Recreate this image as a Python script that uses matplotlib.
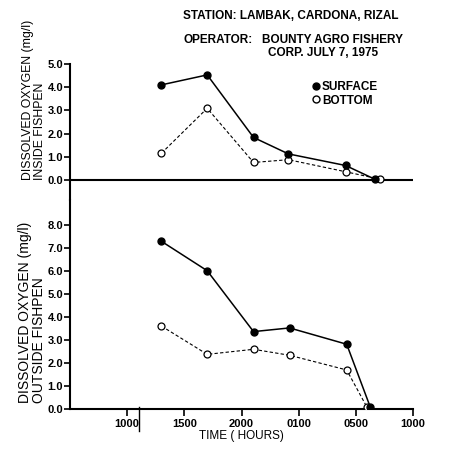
import matplotlib.pyplot as plt
from matplotlib.lines import Line2D

plt.rcParams['font.family'] = ['Liberation Sans', 'DejaVu Sans']
plt.rcParams['font.weight'] = 'bold'

# tick positions on the time axis (one unit per label)
tick_labels = ["1000", "1500", "2000", "0100", "0500", "1000"]

# sampling times as positions on that axis
x_in_surface = [0.60, 1.40, 2.21, 2.82, 3.82, 4.33]
x_in_bottom = [0.60, 1.40, 2.21, 2.82, 3.82, 4.42]
x_out_surface = [0.60, 1.40, 2.21, 2.84, 3.84, 4.25]
x_out_bottom = [0.60, 1.40, 2.21, 2.84, 3.84, 4.19]

# dissolved oxygen, mg/l
do_in_surface = [4.10, 4.53, 1.83, 1.12, 0.62, 0.03]
do_in_bottom = [1.15, 3.09, 0.75, 0.87, 0.35, 0.03]
do_out_surface = [7.30, 6.02, 3.37, 3.53, 2.82, 0.10]
do_out_bottom = [3.61, 2.38, 2.60, 2.34, 1.70, 0.10]

fig = plt.figure(figsize=(4.5, 4.53), dpi=100)
ax1 = fig.add_axes([0.1556, 0.5585, 0.7622, 0.3002])
ax2 = fig.add_axes([0.1556, 0.0971, 0.7622, 0.4614])

surf = dict(color="black", lw=1.1, marker="o", ms=5, mfc="black", mec="black")
bott = dict(color="black", lw=0.8, ls=(0, (3, 2)), marker="o", ms=5,
            mfc="white", mec="black", mew=0.9)

ax1.plot(x_in_bottom, do_in_bottom, **bott, zorder=3)
ax1.plot(x_in_surface, do_in_surface, **surf, zorder=4)
ax2.plot(x_out_bottom, do_out_bottom, **bott, zorder=3)
ax2.plot(x_out_surface, do_out_surface, **surf, zorder=4)

for ax in (ax1, ax2):
    ax.set_xlim(-1.0, 5.0)
    ax.spines['top'].set_visible(False)
    ax.spines['right'].set_visible(False)
    ax.spines['left'].set_linewidth(1.5)
    ax.spines['bottom'].set_linewidth(1.5)
    ax.tick_params(axis='y', direction='out', length=4, width=1.2,
                   labelsize=8, pad=1)

# top panel
ax1.set_ylim(-0.87, 5.0)
ax1.spines['bottom'].set_visible(False)
ax1.axhline(0, color="black", lw=1.5)
ax1.set_xticks([])
ax1.set_yticks([0, 1, 2, 3, 4, 5])
ax1.set_yticklabels([f"{v:.1f}" for v in range(6)])
ax1.set_ylabel("DISSOLVED OXYGEN (mg/l)\nINSIDE FISHPEN", fontsize=8.8,
               multialignment='left', labelpad=1, y=0.15, ha='left',
               linespacing=1.0)

handles = [Line2D([], [], ls='none', marker='o', ms=5, mfc='black', mec='black'),
           Line2D([], [], ls='none', marker='o', ms=5, mfc='white', mec='black')]
ax1.legend(handles, ["SURFACE", "BOTTOM"], loc='upper left',
           bbox_to_anchor=(0.69, 0.92), frameon=False, handlelength=0.5,
           handletextpad=0.3, labelspacing=0.15, fontsize=8.5, borderpad=0)

# bottom panel
ax2.set_ylim(0, 9.1)
ax2.set_yticks([0, 1, 2, 3, 4, 5, 6, 7, 8])
ax2.set_yticklabels([f"{v:.1f}" for v in range(9)])
ax2.set_xticks(range(6))
ax2.set_xticklabels(tick_labels, fontsize=8)
ax2.tick_params(axis='x', direction='out', length=5, width=1.2, pad=2)
ax2.set_xlabel("TIME ( HOURS)", fontsize=8.5, labelpad=1)
ax2.set_ylabel("DISSOLVED OXYGEN (mg/l)\nOUTSIDE FISHPEN", fontsize=10,
               multialignment='left', labelpad=1, y=0.03, ha='left',
               linespacing=1.0)
# axis break mark after the first 1000
ax2.plot([0.21, 0.21], [0.1, -0.95], color="black", lw=1.0, clip_on=False)

fig.text(183 / 450, 1 - 16 / 453, "STATION: LAMBAK, CARDONA, RIZAL",
         fontsize=8.5, va='center')
fig.text(183 / 450, 1 - 40 / 453, "OPERATOR:", fontsize=8.5, va='center')
fig.text(262 / 450, 1 - 40 / 453, "BOUNTY AGRO FISHERY", fontsize=8.5, va='center')
fig.text(268 / 450, 1 - 53 / 453, "CORP. JULY 7, 1975", fontsize=8.5, va='center')

fig.savefig("out.png", dpi=100)
